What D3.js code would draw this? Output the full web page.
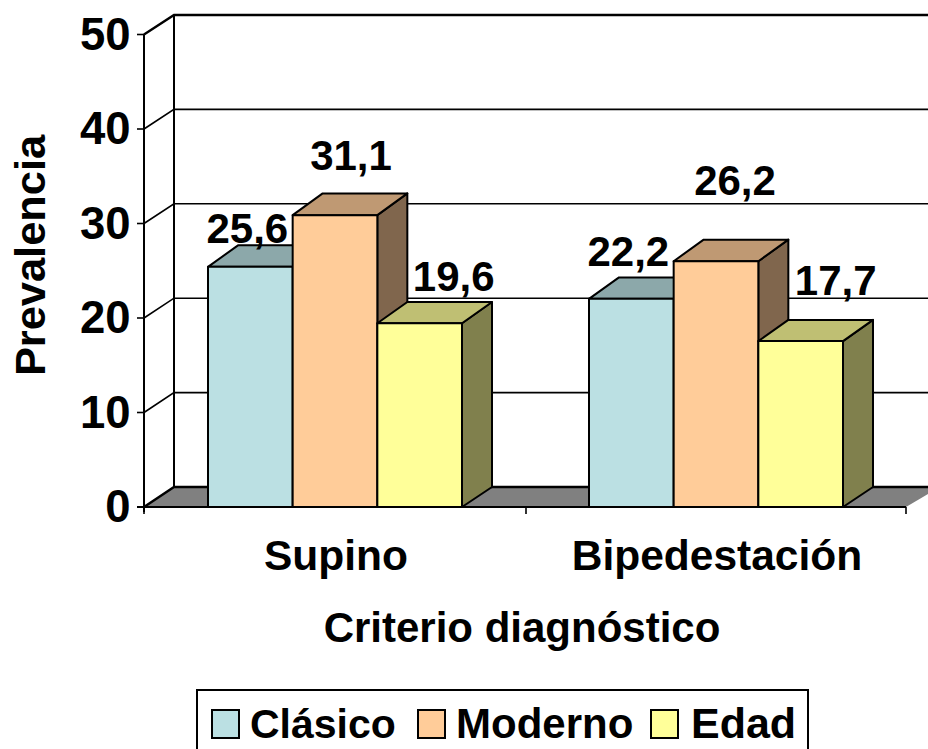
<!DOCTYPE html>
<html><head><meta charset="utf-8">
<script src="https://cdn.jsdelivr.net/npm/d3@7"></script>
<style>html,body{margin:0;padding:0;background:#fff;overflow:hidden}svg{display:block}
text{font-family:"Liberation Sans",Arial,sans-serif;font-weight:700;fill:#000}</style>
</head><body><svg id="c" width="928" height="749"></svg>
<script>
const categories = ["Supino", "Bipedestación"];
const seriesNames = ["Clásico", "Moderno", "Edad"];
const clasico = [25.6, 22.2];
const moderno = [31.1, 26.2];
const edad = [19.6, 17.7];
const tickValues = [0, 10, 20, 30, 40, 50];
const frontColors = ["#BBE0E3", "#FFCC99", "#FFFF99"];
const topColors = ["#8CA8AA", "#BF9973", "#BFBF73"];
const sideColors = ["#5E7072", "#80664D", "#80804D"];

const allSeries = [clasico, moderno, edad];
const DX = 30, DY = -20;
const svg = d3.select("#c");
const x0 = d3.scaleBand().domain(categories).range([144.5, 906.5]).paddingInner(1/3).paddingOuter(1/6);
const x1 = d3.scaleBand().domain(seriesNames).range([0, x0.bandwidth()]);
const yAxisScale = d3.scaleLinear().domain([0, 50]).range([507, 34.5]);
const yBarFront = d3.scaleLinear().domain([0, 50]).range([507.5, 37.5]);
const yBarBack = d3.scaleLinear().domain([0, 50]).range([487, 15]);
const line = d3.line();

// floor
svg.append("path").attr("d", line([[144,507],[144+DX,507+DY],[940,507+DY],[906,507]])+"")
  .attr("fill", "#808080").attr("stroke", "none");
// gridlines and walls
svg.selectAll("path.grid").data(tickValues).join("path").attr("class","grid")
  .attr("d", v => { const y = yAxisScale(v); return line([[144,y],[144+DX,yBarBack(v)],[940,yBarBack(v)]]); })
  .attr("fill","none").attr("stroke","#000").attr("stroke-width", v => (v===0||v===50) ? 2.4 : 1.6);
svg.append("path").attr("d", line([[144,yAxisScale(50)],[144,512]])).attr("stroke","#000").attr("stroke-width",2);
svg.append("path").attr("d", line([[174,yBarBack(50)],[174,yBarBack(0)]])).attr("stroke","#000").attr("stroke-width",2);
// front floor edge
svg.append("path").attr("d", line([[137,507],[906,507]])).attr("stroke","#000").attr("stroke-width",2);
// ticks
svg.selectAll("path.ty").data(tickValues).join("path").attr("class","ty")
  .attr("d", v => line([[137,yAxisScale(v)],[144,yAxisScale(v)]])).attr("stroke","#000").attr("stroke-width",1.6);
[144,526,906].forEach(x => svg.append("path").attr("d", line([[x,507],[x,514]])).attr("stroke","#000").attr("stroke-width",1.6));

// tick labels
svg.selectAll("text.tl").data(tickValues).join("text").attr("class","tl")
  .attr("x", 130.5).attr("y", v => yAxisScale(v)+15).attr("text-anchor","end").attr("font-size",45.5).text(v => v);

// bars
categories.forEach((c, ci) => {
  seriesNames.forEach((s, si) => {
    const v = allSeries[si][ci];
    const xl = x0(c) + x1(s), xr = xl + x1.bandwidth();
    const yf = yBarFront(v), yb = yBarBack(v);
    const g = svg.append("g").attr("stroke","#000").attr("stroke-width",2).attr("stroke-linejoin","round");
    g.append("path").attr("d", line([[xr,yf],[xr+DX,yb],[xr+DX,487],[xr,507]])+"Z").attr("fill",sideColors[si]);
    g.append("path").attr("d", line([[xl,yf],[xl+DX,yb],[xr+DX,yb],[xr,yf]])+"Z").attr("fill",topColors[si]);
    g.append("rect").attr("x",xl).attr("y",yf).attr("width",xr-xl).attr("height",507-yf).attr("fill",frontColors[si]);
  });
});

// data labels: offset of each label from its bar's top centre, as placed in the reference
const labelOffsets = [[[-3,-24],[16,-45],[34,-32]], [[-3,-33],[19,-66],[35,-46]]];
categories.forEach((c, ci) => seriesNames.forEach((s, si) => {
  const v = allSeries[si][ci];
  svg.append("text")
    .attr("x", x0(c)+x1(s)+x1.bandwidth()/2+labelOffsets[ci][si][0])
    .attr("y", yBarFront(v)+labelOffsets[ci][si][1])
    .attr("text-anchor","middle").attr("font-size",42)
    .text(String(v).replace(".", ","));
}));

// category labels
svg.selectAll("text.cat").data(categories).join("text").attr("class","cat")
  .attr("x", c => x0(c)+x0.bandwidth()/2+1).attr("y",570)
  .attr("text-anchor","middle").attr("font-size",42.5).text(c => c);
// axis titles
svg.append("text").attr("x",522).attr("y",642).attr("text-anchor","middle").attr("font-size",42).text("Criterio diagnóstico");
svg.append("text").attr("transform","translate(45,255.5) rotate(-90)").attr("text-anchor","middle").attr("font-size",43.4).text("Prevalencia");

// legend
svg.append("rect").attr("x",197).attr("y",690).attr("width",611).attr("height",80).attr("fill","#fff").attr("stroke","#000").attr("stroke-width",2);
const legendX = d3.scaleOrdinal().domain(seriesNames).range([212,418,651]);
const legendFontSizes = [41, 42, 43];
seriesNames.forEach((s,i) => {
  svg.append("rect").attr("x",legendX(s)).attr("y",710).attr("width",27).attr("height",28).attr("fill",frontColors[i]).attr("stroke","#000").attr("stroke-width",2);
  svg.append("text").attr("x",legendX(s)+38+(i===2?2:0)).attr("y",738).attr("font-size",legendFontSizes[i]).text(s);
});
</script></body></html>
